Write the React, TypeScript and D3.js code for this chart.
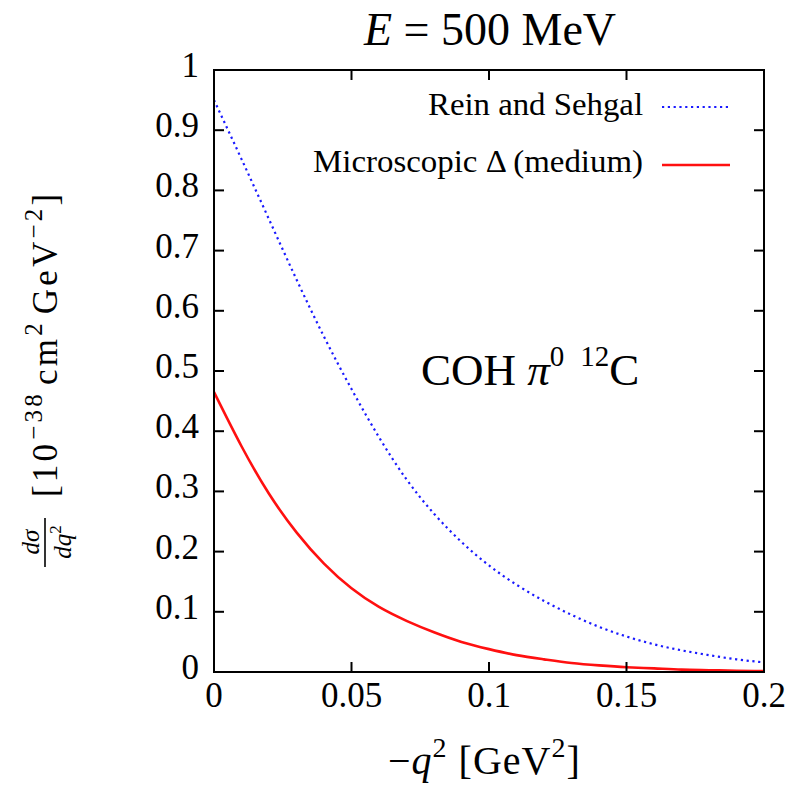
import React from "react";
import * as d3 from "d3";

const q2Values = [0, 0.01, 0.02, 0.03, 0.04, 0.05, 0.06, 0.07, 0.08, 0.09, 0.1, 0.11, 0.12, 0.13, 0.14, 0.15, 0.16, 0.17, 0.18, 0.19, 0.2];
const reinSehgal = [0.95, 0.852, 0.752, 0.652, 0.557, 0.47, 0.39, 0.32, 0.263, 0.216, 0.177, 0.145, 0.118, 0.095, 0.075, 0.059, 0.046, 0.036, 0.028, 0.021, 0.016];
const microscopic = [0.465, 0.375, 0.296, 0.232, 0.18, 0.139, 0.108, 0.085, 0.066, 0.05, 0.038, 0.028, 0.021, 0.015, 0.011, 0.008, 0.006, 0.004, 0.003, 0.002, 0.0015];
const xTicks = [0, 0.05, 0.1, 0.15, 0.2];
const xTickLabels = ["0", "0.05", "0.1", "0.15", "0.2"];
const yTicks = [0, 0.1, 0.2, 0.3, 0.4, 0.5, 0.6, 0.7, 0.8, 0.9, 1];
const yTickLabels = ["0", "0.1", "0.2", "0.3", "0.4", "0.5", "0.6", "0.7", "0.8", "0.9", "1"];
const seriesNames = ["Rein and Sehgal", "Microscopic \u0394 (medium)"];

const FONT = "'Liberation Serif', 'DejaVu Serif', serif";

export default function App() {
  const W = 789, H = 787;
  const left = 214, right = 764, top = 70, bottom = 672;
  const x = d3.scaleLinear().domain([0, 0.2]).range([left, right]);
  const y = d3.scaleLinear().domain([0, 1]).range([bottom, top]);
  const line = d3
    .line<number>()
    .x((_, i) => x(q2Values[i]))
    .y((d) => y(d))
    .curve(d3.curveNatural);
  const tick = 10;

  return (
    <div style={{ position: "absolute", left: 0, top: 0 }}>
      <svg width={W} height={H} style={{ display: "block", background: "#fff" }} fontFamily={FONT}>
        <defs>
          <clipPath id="plotClip">
            <rect x={left} y={top} width={right - left} height={bottom - top} />
          </clipPath>
        </defs>
        {/* title */}
        <text x={490} y={45} fontSize={46} textAnchor="middle" fill="#000">
          <tspan fontStyle="italic">E</tspan>
          <tspan> = 500 MeV</tspan>
        </text>

        {/* curves */}
        <g clipPath="url(#plotClip)">
          <path d={line(reinSehgal) || ""} fill="none" stroke="#1a1aff" strokeWidth={2.2} strokeDasharray="2.2,3.6" />
          <path d={line(microscopic) || ""} fill="none" stroke="#ff1010" strokeWidth={2.6} />
        </g>

        {/* frame */}
        <rect x={left} y={top} width={right - left} height={bottom - top} fill="none" stroke="#000" strokeWidth={2} />

        {/* x ticks */}
        {xTicks.map((t, i) => (
          <g key={"x" + i}>
            <line x1={x(t)} x2={x(t)} y1={bottom} y2={bottom - tick} stroke="#000" strokeWidth={2} />
            <line x1={x(t)} x2={x(t)} y1={top} y2={top + tick} stroke="#000" strokeWidth={2} />
            <text x={x(t)} y={707} fontSize={35} textAnchor="middle" fill="#000">
              {xTickLabels[i]}
            </text>
          </g>
        ))}

        {/* y ticks */}
        {yTicks.map((t, i) => (
          <g key={"y" + i}>
            <line x1={left} x2={left + tick} y1={y(t)} y2={y(t)} stroke="#000" strokeWidth={2} />
            <line x1={right} x2={right - tick} y1={y(t)} y2={y(t)} stroke="#000" strokeWidth={2} />
            <text x={199} y={y(t) + 7} fontSize={35} textAnchor="end" fill="#000">
              {yTickLabels[i]}
            </text>
          </g>
        ))}

        {/* legend */}
        <text x={428} y={115} fontSize={31} textLength={215} lengthAdjust="spacingAndGlyphs" fill="#000">
          {seriesNames[0]}
        </text>
        <line x1={662} x2={730} y1={107} y2={107} stroke="#1a1aff" strokeWidth={2.2} strokeDasharray="2.2,3.6" />
        <text x={313} y={172} fontSize={31} textLength={330} lengthAdjust="spacingAndGlyphs" fill="#000">
          {seriesNames[1]}
        </text>
        <line x1={662} x2={730} y1={165} y2={165} stroke="#ff1010" strokeWidth={2.6} />

        {/* annotation */}
        <text x={421} y={385} fontSize={45} fill="#000">
          <tspan>COH </tspan>
          <tspan fontStyle="italic">π</tspan>
          <tspan fontSize={29} dy={-19}>0</tspan>
          <tspan fontSize={29} dx={16}>12</tspan>
          <tspan dy={19}>C</tspan>
        </text>

        {/* x label */}
        <text x={388} y={774} fontSize={40} fill="#000" letterSpacing={1}>
          <tspan>−</tspan>
          <tspan fontStyle="italic">q</tspan>
          <tspan fontSize={28} dy={-17}>2</tspan>
          <tspan dy={17}> [GeV</tspan>
          <tspan fontSize={28} dy={-17}>2</tspan>
          <tspan dy={17}>]</tspan>
        </text>

        {/* y label */}
        <g transform="rotate(-90)">
          <text x={-542} y={39} fontSize={25} textAnchor="middle" fontStyle="italic" fill="#000">
            dσ
          </text>
          <line x1={-567} x2={-518} y1={45} y2={45} stroke="#000" strokeWidth={1.6} />
          <text x={-542} y={71} fontSize={25} textAnchor="middle" fill="#000">
            <tspan fontStyle="italic">dq</tspan>
            <tspan fontSize={17} dy={-10}>2</tspan>
          </text>
          <text x={-497} y={57} fontSize={35} fill="#000" letterSpacing={3.2}>
            <tspan>[10</tspan>
            <tspan fontSize={25} dy={-15} dx={1}>−38</tspan>
            <tspan dy={15} dx={6}>cm</tspan>
            <tspan fontSize={25} dy={-15}>2</tspan>
            <tspan dy={15} dx={6}>GeV</tspan>
            <tspan fontSize={25} dy={-15}>−2</tspan>
            <tspan dy={15}>]</tspan>
          </text>
        </g>
      </svg>
    </div>
  );
}
